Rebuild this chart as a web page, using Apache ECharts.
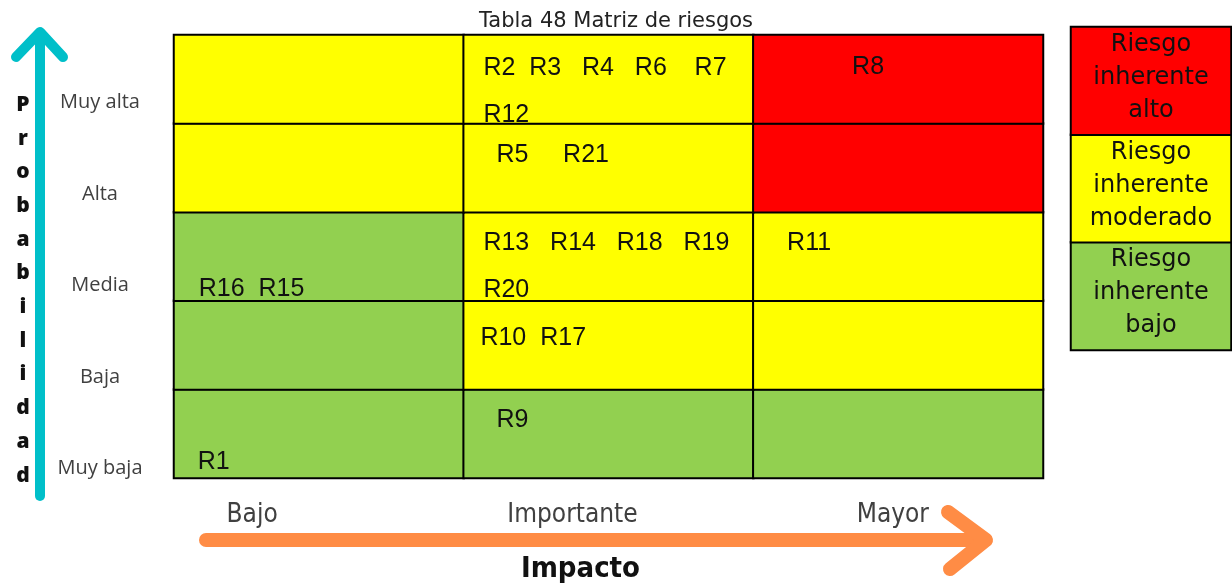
<!DOCTYPE html>
<html>
<head>
<meta charset="utf-8">
<title>Matriz de riesgos</title>
<script src="https://cdn.jsdelivr.net/npm/echarts@6/dist/echarts.min.js"></script>
<style>
  html, body { margin: 0; padding: 0; background: #fff; }
</style>
</head>
<body>
<!-- contenedor del gráfico -->
<div id="main" style="width: 1232px; height: 586px;"></div>
<script>
// categorías de los ejes
var impacto = ['Bajo', 'Importante', 'Mayor']
var probabilidad = ['Muy baja', 'Baja', 'Media', 'Alta', 'Muy alta']

// nivel de riesgo por celda (0 bajo, 1 moderado, 2 alto), filas de Muy baja a Muy alta
var nivel = [
  [0, 0, 0],
  [0, 1, 1],
  [0, 1, 1],
  [1, 1, 2],
  [1, 1, 2]
]

// riesgos escritos en cada celda, mismas filas
var riesgos = [
  ['R1', 'R9', ''],
  ['', 'R10  R17', ''],
  ['R16  R15', 'R13   R14   R18   R19\nR20', 'R11'],
  ['', 'R5     R21', ''],
  ['', 'R2  R3   R4   R6    R7\nR12', 'R8']
]

// leyenda
var nivelesLeyenda = ['Riesgo\ninherente\nbajo', 'Riesgo\ninherente\nmoderado', 'Riesgo\ninherente\nalto']

// posición del texto dentro de cada celda (px desde la esquina superior izquierda)
var posTexto = [
  [[25, 50], [34, 8], [0, 0]],
  [[0, 0], [18, 15], [0, 0]],
  [[26, 55], [21, 9], [35, 9]],
  [[0, 0], [34, 9], [0, 0]],
  [[0, 0], [21, 11], [100, 10]]
]

var colores = ['#92D050', '#FFFF00', '#FF0000']

var datos = []
nivel.forEach(function (fila, y) {
  fila.forEach(function (v, x) {
    datos.push({
      value: [x, y, v],
      label: { position: posTexto[y][x] }
    })
  })
})

var datosLeyenda = nivelesLeyenda.map(function (t, i) {
  return [0, i, i]
})

var fuenteEstrecha = 'DejaVu Sans Condensed, Liberation Sans Narrow, sans-serif'

var myChart = echarts.init(document.getElementById('main'))

var option = {
  animation: false,
  title: {
    text: 'Tabla 48 Matriz de riesgos',
    left: 'center',
    top: 6,
    textStyle: {
      fontFamily: 'DejaVu Sans, sans-serif',
      fontWeight: 'normal',
      fontSize: 21,
      color: '#222'
    }
  },
  visualMap: {
    type: 'piecewise',
    show: false,
    dimension: 2,
    seriesIndex: [0, 1],
    pieces: [
      { value: 0, color: colores[0] },
      { value: 1, color: colores[1] },
      { value: 2, color: colores[2] }
    ]
  },
  grid: [
    // matriz
    { left: 174, top: 35, width: 869, height: 443 },
    // etiquetas de probabilidad
    { left: 100, top: 57, width: 1, height: 457 },
    // etiquetas de impacto
    { left: 92, top: 490, width: 961, height: 10 },
    // leyenda
    { left: 1071, top: 27, width: 160, height: 323 }
  ],
  xAxis: [
    {
      gridIndex: 0, type: 'category', data: impacto,
      axisLine: { show: false }, axisTick: { show: false }, axisLabel: { show: false }, splitLine: { show: false }
    },
    { gridIndex: 1, type: 'value', show: false },
    {
      gridIndex: 2, type: 'category', data: impacto,
      axisLine: { show: false }, axisTick: { show: false },
      axisLabel: {
        margin: 2,
        fontFamily: fuenteEstrecha,
        fontSize: 26,
        color: '#404040'
      },
      name: 'Impacto',
      nameLocation: 'middle',
      nameGap: 55,
      nameTextStyle: {
        fontFamily: fuenteEstrecha,
        fontWeight: 'bold',
        fontSize: 29,
        color: '#111',
        padding: [0, 0, 0, 16]
      }
    },
    { gridIndex: 3, type: 'category', data: ['leyenda'], show: false }
  ],
  yAxis: [
    {
      gridIndex: 0, type: 'category', data: probabilidad,
      axisLine: { show: false }, axisTick: { show: false }, axisLabel: { show: false }, splitLine: { show: false }
    },
    {
      gridIndex: 1, type: 'category', data: probabilidad,
      axisLine: { show: false }, axisTick: { show: false },
      axisLabel: {
        margin: 0,
        align: 'center',
        fontFamily: 'Open Sans, sans-serif',
        fontSize: 20,
        color: '#404040'
      }
    },
    { gridIndex: 2, type: 'value', show: false },
    { gridIndex: 3, type: 'category', data: nivelesLeyenda, show: false }
  ],
  series: [
    {
      type: 'heatmap',
      xAxisIndex: 0,
      yAxisIndex: 0,
      data: datos,
      itemStyle: { borderColor: '#000', borderWidth: 2 },
      label: {
        show: true,
        fontFamily: 'Liberation Sans, Arial, sans-serif',
        fontSize: 25,
        lineHeight: 47,
        color: '#111',
        formatter: function (p) {
          return riesgos[p.value[1]][p.value[0]]
        }
      },
      emphasis: { disabled: true }
    },
    {
      type: 'heatmap',
      xAxisIndex: 3,
      yAxisIndex: 3,
      data: datosLeyenda,
      itemStyle: { borderColor: '#000', borderWidth: 2 },
      label: {
        show: true,
        offset: [0, -3],
        fontFamily: 'DejaVu Sans, sans-serif',
        fontSize: 24,
        lineHeight: 33,
        color: '#111',
        formatter: function (p) {
          return nivelesLeyenda[p.value[1]]
        }
      },
      emphasis: { disabled: true }
    }
  ],
  graphic: [
    // flecha de probabilidad
    {
      type: 'polyline',
      shape: { points: [[40, 496], [40, 34]] },
      style: { stroke: '#00BFC9', lineWidth: 10, lineCap: 'round' }
    },
    {
      type: 'polyline',
      shape: { points: [[16, 57], [40, 32], [63, 57]] },
      style: { stroke: '#00BFC9', lineWidth: 10, lineCap: 'round', lineJoin: 'round', fill: null }
    },
    {
      type: 'text',
      style: {
        text: 'P\nr\no\nb\na\nb\ni\nl\ni\nd\na\nd',
        x: 23,
        y: 88,
        align: 'center',
        lineHeight: 33.7,
        font: '900 21px "Open Sans", sans-serif',
        fill: '#111'
      }
    },
    // flecha de impacto
    {
      type: 'polyline',
      shape: { points: [[206, 540], [984, 540]] },
      style: { stroke: '#FF8C45', lineWidth: 14, lineCap: 'round' }
    },
    {
      type: 'polyline',
      shape: { points: [[948, 512], [986, 540], [950, 569]] },
      style: { stroke: '#FF8C45', lineWidth: 14, lineCap: 'round', lineJoin: 'round', fill: null }
    }
  ]
}

myChart.setOption(option)
</script>
</body>
</html>
